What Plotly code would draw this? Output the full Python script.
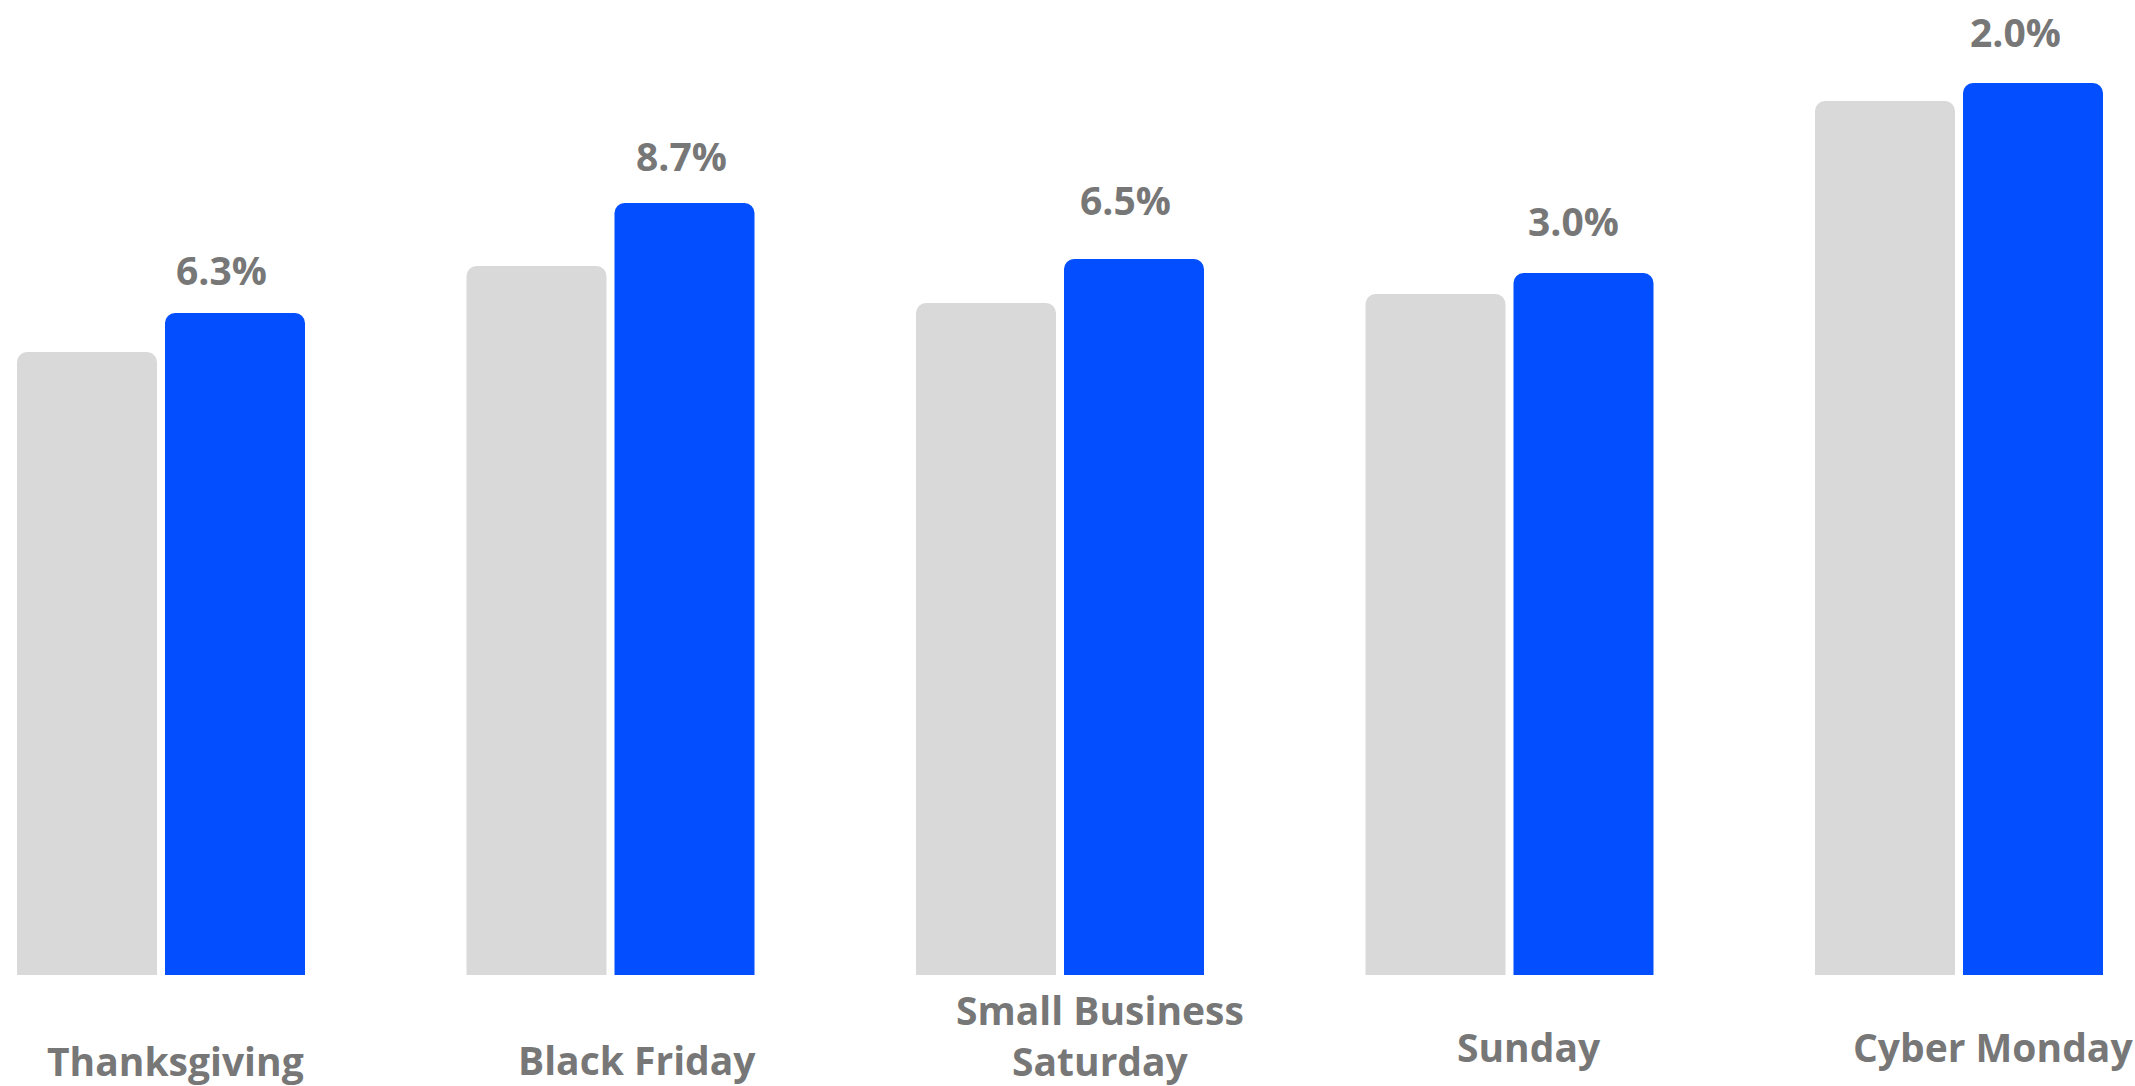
import plotly.graph_objects as go

# Data (relative sales index)
days = ["Thanksgiving", "Black Friday", "Small Business<br>Saturday", "Sunday", "Cyber Monday"]
prior_year = [623, 709, 672, 681, 874]
current_year = [662, 772, 716, 702, 892]
growth_labels = ["6.3%", "8.7%", "6.5%", "3.0%", "2.0%"]

GRAY = "#D9D9D9"
BLUE = "#034FFF"
TEXT = "#777777"
FONT = "Open Sans"

W, H = 2135, 1086
plot_bottom = 975  # px

fig = go.Figure()
fig.add_trace(go.Bar(x=list(range(len(days))), y=prior_year, marker=dict(color=GRAY, cornerradius=10, line=dict(width=0)),
                     showlegend=False, hoverinfo="skip"))
fig.add_trace(go.Bar(x=list(range(len(days))), y=current_year, marker=dict(color=BLUE, cornerradius=10, line=dict(width=0)),
                     showlegend=False, hoverinfo="skip"))

slot = 449.5
first_center = 161
x_range = [-first_center / slot, (W - first_center) / slot]

# value labels above blue bars
val_dx = [-13, -3, -8, -10, -17]
val_dy = [44, 48, 60, 53, 52]
for i, lab in enumerate(growth_labels):
    fig.add_annotation(x=i + 0.1646, y=current_year[i], xref="x", yref="y", text=f"<b>{lab}</b>",
                       showarrow=False, xanchor="center", yanchor="middle",
                       xshift=val_dx[i], yshift=val_dy[i],
                       font=dict(family=FONT, size=39, color=TEXT))

# category labels (pixel centres measured in the reference)
cat_dx = [14, 26, 40, 19, 34]
cat_py = [1060, 1059, 1035, 1046, 1046]
for i, name in enumerate(days):
    fig.add_annotation(x=i, y=(plot_bottom - cat_py[i]) / plot_bottom, xref="x", yref="paper",
                       text=f"<b>{name}</b>", showarrow=False, xanchor="center", yanchor="middle",
                       xshift=cat_dx[i], font=dict(family=FONT, size=39, color=TEXT))

fig.update_layout(
    width=W, height=H,
    margin=dict(l=0, r=0, t=0, b=H - plot_bottom),
    paper_bgcolor="white", plot_bgcolor="white",
    barmode="group", bargap=0.3415, bargroupgap=0.054,
    xaxis=dict(range=x_range, showticklabels=False, showgrid=False, zeroline=False, showline=False, fixedrange=True),
    yaxis=dict(range=[0, plot_bottom], showticklabels=False, showgrid=False, zeroline=False, showline=False, fixedrange=True),
    font=dict(family=FONT, color=TEXT),
)

fig.write_html("out.html", config={"displayModeBar": False},
               post_script="document.body.style.margin='0';document.body.style.overflow='hidden';")
